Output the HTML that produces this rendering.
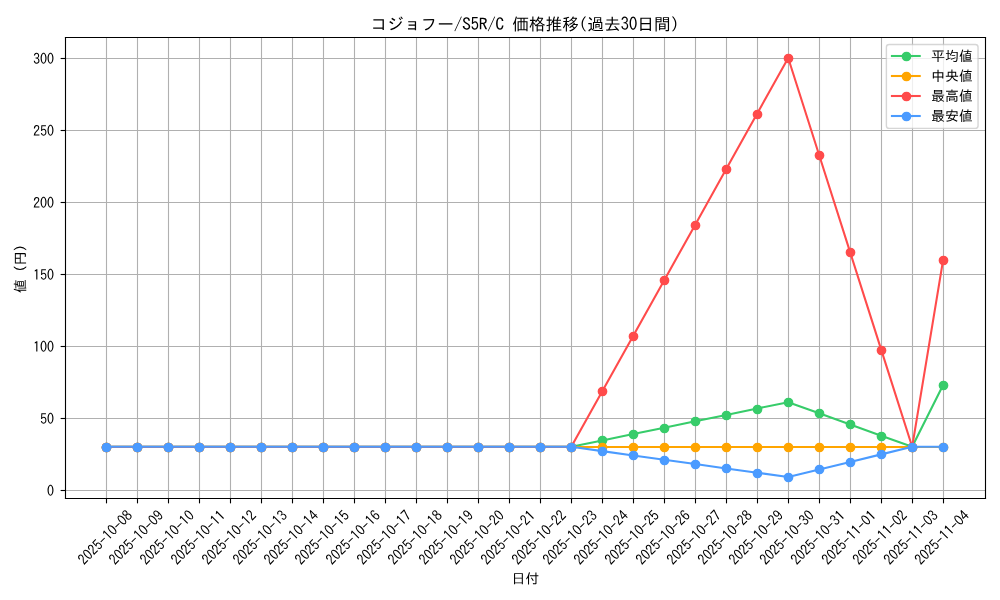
<!DOCTYPE html>
<html><head><meta charset="utf-8"><title>chart</title><style>html,body{margin:0;padding:0;background:#fff;overflow:hidden;font-family:"Liberation Sans",sans-serif}svg{display:block}</style></head><body>
<svg width="1000" height="600" viewBox="0 0 720 432">
<defs>
<style type="text/css">*{stroke-linejoin: round; stroke-linecap: butt}</style>
</defs>
<g id="figure_1">
<g id="patch_1">
<path d="M 0 432  L 720 432  L 720 0  L 0 0  z " style="fill: #ffffff" />
</g>
<g id="axes_1">
<g id="patch_2">
<path d="M 46.512 358.56  L 709.2 358.56  L 709.2 26.676  L 46.512 26.676  z " style="fill: #ffffff" />
</g>
<g id="matplotlib.axis_1">
<g id="xtick_1">
<g id="line2d_1">
<path d="M 76.68 358.92 L 76.68 27" clip-path="url(#p4cbaa17810)" style="fill: none; stroke: #b0b0b0; stroke-width: 0.8; stroke-linecap: square" />
</g>
<g id="line2d_2">
<defs>
<path id="m046e9c163f" d="M 0 0  L 0 3.5  " style="stroke: #000000; stroke-width: 0.8" />
</defs>
<g>
<use href="#m046e9c163f" x="76.68" y="358.92" style="stroke: #000000; stroke-width: 0.8" />
</g>
</g>
<g id="text_1" transform="translate(-0.54 1.152)">
<g transform="translate(61.283336 406.225269) rotate(-45) scale(0.1 -0.1)">
<defs>
<path id="IPAGothic-32" d="M 2900 325  L 250 325  Q 441 1553 1528 2453  Q 1963 2806 2116 3034  Q 2316 3319 2316 3706  Q 2316 4022 2175 4219  Q 1994 4494 1631 4494  Q 894 4494 825 3406  L 322 3406  Q 359 4056 628 4428  Q 981 4928 1644 4928  Q 2106 4928 2425 4659  Q 2828 4313 2828 3713  Q 2828 2875 1881 2156  Q 1072 1541 909 800  L 2900 800  L 2900 325  z " transform="translate(25 0) scale(1 1.06) translate(-25 0) scale(0.015625)" />
<path id="IPAGothic-30" d="M 1600 4935 C 2285.96 4935 2842 3874.4 2842 2566 C 2842 1257.6 2285.96 197 1600 197 C 914.043 197 358 1257.6 358 2566 C 358 3874.4 914.043 4935 1600 4935 Z M 1600 4526 C 1180.25 4526 840 3648.51 840 2566 C 840 1483.49 1180.25 606 1600 606 C 2019.75 606 2360 1483.49 2360 2566 C 2360 3648.51 2019.75 4526 1600 4526 Z" transform="translate(25 0) scale(1.1 1.06) translate(-25 0) scale(0.015625)" />
<path id="IPAGothic-35" d="M 566 4806  L 2691 4806  L 2691 4359  L 1013 4359  L 944 2888  Q 1259 3250 1738 3250  Q 2250 3250 2588 2816  Q 2909 2397 2909 1772  Q 2909 1238 2697 844  Q 2341 197 1591 197  Q 538 197 328 1375  L 841 1375  Q 947 644 1588 644  Q 2000 644 2228 997  Q 2422 1294 2422 1766  Q 2422 2184 2259 2456  Q 2059 2822 1653 2822  Q 1156 2822 859 2225  L 456 2309  L 566 4806  z " transform="translate(25 0) scale(1 1.06) translate(-25 0) scale(0.015625)" />
<path id="IPAGothic-2d" d="M 313 2663  L 2884 2663  L 2884 2203  L 313 2203  L 313 2663  z " transform="scale(0.015625)" />
<path id="IPAGothic-31" d="M 1428 325  L 1428 4153  Q 1188 3991 756 3809  L 756 4325  Q 1256 4509 1563 4806  L 1953 4806  L 1953 325  L 1428 325  z " transform="translate(25 0) scale(1 1.06) translate(-25 0) scale(0.015625)" />
<path id="IPAGothic-38" d="M 1050 2741  Q 403 3056 403 3750  Q 403 4084 563 4359  Q 900 4934 1600 4934  Q 1950 4934 2253 4750  Q 2797 4416 2797 3750  Q 2797 3056 2150 2741  Q 2978 2422 2978 1541  Q 2978 1038 2697 678  Q 2322 197 1600 197  Q 988 197 616 550  Q 225 922 225 1541  Q 225 2422 1050 2741  z M 1600 4525  Q 1278 4525 1075 4294  Q 891 4078 891 3756  Q 891 3544 969 3372  Q 1159 2956 1606 2956  Q 1863 2956 2041 3116  Q 2309 3347 2309 3756  Q 2309 4156 2041 4378  Q 1856 4525 1600 4525  z M 1594 2497  Q 1178 2497 931 2191  Q 725 1925 725 1541  Q 725 1172 925 925  Q 1172 619 1600 619  Q 2031 619 2281 925  Q 2478 1172 2478 1541  Q 2478 2022 2184 2278  Q 1947 2497 1594 2497  z " transform="translate(25 0) scale(1 1.06) translate(-25 0) scale(0.015625)" />
</defs>
<use href="#IPAGothic-32" />
<use href="#IPAGothic-30" transform="translate(50 0)" />
<use href="#IPAGothic-32" transform="translate(100 0)" />
<use href="#IPAGothic-35" transform="translate(150 0)" />
<use href="#IPAGothic-2d" transform="translate(200 0)" />
<use href="#IPAGothic-31" transform="translate(250 0)" />
<use href="#IPAGothic-30" transform="translate(300 0)" />
<use href="#IPAGothic-2d" transform="translate(350 0)" />
<use href="#IPAGothic-30" transform="translate(400 0)" />
<use href="#IPAGothic-38" transform="translate(450 0)" />
</g>
</g>
</g>
<g id="xtick_2">
<g id="line2d_3">
<path d="M 99 358.92 L 99 27" clip-path="url(#p4cbaa17810)" style="fill: none; stroke: #b0b0b0; stroke-width: 0.8; stroke-linecap: square" />
</g>
<g id="line2d_4">
<g>
<use href="#m046e9c163f" x="99" y="358.92" style="stroke: #000000; stroke-width: 0.8" />
</g>
</g>
<g id="text_2" transform="translate(-0.54 1.152)">
<g transform="translate(83.596063 406.225269) rotate(-45) scale(0.1 -0.1)">
<defs>
<path id="IPAGothic-39" d="M 909 1363  Q 988 666 1569 666  Q 2431 666 2422 2500  Q 2063 1972 1519 1972  Q 859 1972 531 2588  Q 347 2947 347 3419  Q 347 4019 672 4459  Q 1022 4934 1569 4934  Q 2888 4934 2888 2706  Q 2888 197 1575 197  Q 975 197 628 716  Q 450 984 384 1363  L 909 1363  z M 1591 4494  Q 834 4494 834 3431  Q 834 3038 969 2778  Q 1169 2394 1591 2394  Q 1859 2394 2069 2631  Q 2338 2938 2338 3431  Q 2338 3925 2125 4213  Q 1922 4494 1591 4494  z " transform="translate(25 0) scale(1 1.06) translate(-25 0) scale(0.015625)" />
</defs>
<use href="#IPAGothic-32" />
<use href="#IPAGothic-30" transform="translate(50 0)" />
<use href="#IPAGothic-32" transform="translate(100 0)" />
<use href="#IPAGothic-35" transform="translate(150 0)" />
<use href="#IPAGothic-2d" transform="translate(200 0)" />
<use href="#IPAGothic-31" transform="translate(250 0)" />
<use href="#IPAGothic-30" transform="translate(300 0)" />
<use href="#IPAGothic-2d" transform="translate(350 0)" />
<use href="#IPAGothic-30" transform="translate(400 0)" />
<use href="#IPAGothic-39" transform="translate(450 0)" />
</g>
</g>
</g>
<g id="xtick_3">
<g id="line2d_5">
<path d="M 121.32 358.92 L 121.32 27" clip-path="url(#p4cbaa17810)" style="fill: none; stroke: #b0b0b0; stroke-width: 0.8; stroke-linecap: square" />
</g>
<g id="line2d_6">
<g>
<use href="#m046e9c163f" x="121.32" y="358.92" style="stroke: #000000; stroke-width: 0.8" />
</g>
</g>
<g id="text_3" transform="translate(-0.54 1.152)">
<g transform="translate(105.90879 406.225269) rotate(-45) scale(0.1 -0.1)">
<use href="#IPAGothic-32" />
<use href="#IPAGothic-30" transform="translate(50 0)" />
<use href="#IPAGothic-32" transform="translate(100 0)" />
<use href="#IPAGothic-35" transform="translate(150 0)" />
<use href="#IPAGothic-2d" transform="translate(200 0)" />
<use href="#IPAGothic-31" transform="translate(250 0)" />
<use href="#IPAGothic-30" transform="translate(300 0)" />
<use href="#IPAGothic-2d" transform="translate(350 0)" />
<use href="#IPAGothic-31" transform="translate(400 0)" />
<use href="#IPAGothic-30" transform="translate(450 0)" />
</g>
</g>
</g>
<g id="xtick_4">
<g id="line2d_7">
<path d="M 143.64 358.92 L 143.64 27" clip-path="url(#p4cbaa17810)" style="fill: none; stroke: #b0b0b0; stroke-width: 0.8; stroke-linecap: square" />
</g>
<g id="line2d_8">
<g>
<use href="#m046e9c163f" x="143.64" y="358.92" style="stroke: #000000; stroke-width: 0.8" />
</g>
</g>
<g id="text_4" transform="translate(-0.54 1.152)">
<g transform="translate(128.221517 406.225269) rotate(-45) scale(0.1 -0.1)">
<use href="#IPAGothic-32" />
<use href="#IPAGothic-30" transform="translate(50 0)" />
<use href="#IPAGothic-32" transform="translate(100 0)" />
<use href="#IPAGothic-35" transform="translate(150 0)" />
<use href="#IPAGothic-2d" transform="translate(200 0)" />
<use href="#IPAGothic-31" transform="translate(250 0)" />
<use href="#IPAGothic-30" transform="translate(300 0)" />
<use href="#IPAGothic-2d" transform="translate(350 0)" />
<use href="#IPAGothic-31" transform="translate(400 0)" />
<use href="#IPAGothic-31" transform="translate(450 0)" />
</g>
</g>
</g>
<g id="xtick_5">
<g id="line2d_9">
<path d="M 165.96 358.92 L 165.96 27" clip-path="url(#p4cbaa17810)" style="fill: none; stroke: #b0b0b0; stroke-width: 0.8; stroke-linecap: square" />
</g>
<g id="line2d_10">
<g>
<use href="#m046e9c163f" x="165.96" y="358.92" style="stroke: #000000; stroke-width: 0.8" />
</g>
</g>
<g id="text_5" transform="translate(-0.54 1.152)">
<g transform="translate(150.534245 406.225269) rotate(-45) scale(0.1 -0.1)">
<use href="#IPAGothic-32" />
<use href="#IPAGothic-30" transform="translate(50 0)" />
<use href="#IPAGothic-32" transform="translate(100 0)" />
<use href="#IPAGothic-35" transform="translate(150 0)" />
<use href="#IPAGothic-2d" transform="translate(200 0)" />
<use href="#IPAGothic-31" transform="translate(250 0)" />
<use href="#IPAGothic-30" transform="translate(300 0)" />
<use href="#IPAGothic-2d" transform="translate(350 0)" />
<use href="#IPAGothic-31" transform="translate(400 0)" />
<use href="#IPAGothic-32" transform="translate(450 0)" />
</g>
</g>
</g>
<g id="xtick_6">
<g id="line2d_11">
<path d="M 188.28 358.92 L 188.28 27" clip-path="url(#p4cbaa17810)" style="fill: none; stroke: #b0b0b0; stroke-width: 0.8; stroke-linecap: square" />
</g>
<g id="line2d_12">
<g>
<use href="#m046e9c163f" x="188.28" y="358.92" style="stroke: #000000; stroke-width: 0.8" />
</g>
</g>
<g id="text_6" transform="translate(-0.54 1.152)">
<g transform="translate(172.846972 406.225269) rotate(-45) scale(0.1 -0.1)">
<defs>
<path id="IPAGothic-33" d="M 1113 2931  L 1431 2931  Q 1841 2931 1994 3047  Q 2281 3269 2281 3713  Q 2281 4500 1566 4500  Q 972 4500 838 3828  L 331 3828  Q 400 4250 625 4525  Q 969 4934 1566 4934  Q 2066 4934 2391 4647  Q 2775 4309 2775 3731  Q 2775 2953 2078 2713  Q 2919 2388 2919 1528  Q 2919 978 2606 625  Q 2231 197 1575 197  Q 959 197 594 619  Q 325 928 269 1472  L 794 1472  Q 859 638 1575 638  Q 1906 638 2131 825  Q 2413 1066 2413 1528  Q 2413 2522 1431 2522  L 1113 2522  L 1113 2931  z " transform="translate(25 0) scale(1 1.06) translate(-25 0) scale(0.015625)" />
</defs>
<use href="#IPAGothic-32" />
<use href="#IPAGothic-30" transform="translate(50 0)" />
<use href="#IPAGothic-32" transform="translate(100 0)" />
<use href="#IPAGothic-35" transform="translate(150 0)" />
<use href="#IPAGothic-2d" transform="translate(200 0)" />
<use href="#IPAGothic-31" transform="translate(250 0)" />
<use href="#IPAGothic-30" transform="translate(300 0)" />
<use href="#IPAGothic-2d" transform="translate(350 0)" />
<use href="#IPAGothic-31" transform="translate(400 0)" />
<use href="#IPAGothic-33" transform="translate(450 0)" />
</g>
</g>
</g>
<g id="xtick_7">
<g id="line2d_13">
<path d="M 210.6 358.92 L 210.6 27" clip-path="url(#p4cbaa17810)" style="fill: none; stroke: #b0b0b0; stroke-width: 0.8; stroke-linecap: square" />
</g>
<g id="line2d_14">
<g>
<use href="#m046e9c163f" x="210.6" y="358.92" style="stroke: #000000; stroke-width: 0.8" />
</g>
</g>
<g id="text_7" transform="translate(-0.54 1.152)">
<g transform="translate(195.159699 406.225269) rotate(-45) scale(0.1 -0.1)">
<defs>
<path id="IPAGothic-34" d="M 1966 4806  L 2509 4806  L 2509 1869  L 3041 1869  L 3041 1434  L 2509 1434  L 2509 325  L 2034 325  L 2034 1434  L 159 1434  L 159 1881  L 1966 4806  z M 2034 4109  L 641 1869  L 2034 1869  L 2034 4109  z " transform="translate(25 0) scale(1 1.06) translate(-25 0) scale(0.015625)" />
</defs>
<use href="#IPAGothic-32" />
<use href="#IPAGothic-30" transform="translate(50 0)" />
<use href="#IPAGothic-32" transform="translate(100 0)" />
<use href="#IPAGothic-35" transform="translate(150 0)" />
<use href="#IPAGothic-2d" transform="translate(200 0)" />
<use href="#IPAGothic-31" transform="translate(250 0)" />
<use href="#IPAGothic-30" transform="translate(300 0)" />
<use href="#IPAGothic-2d" transform="translate(350 0)" />
<use href="#IPAGothic-31" transform="translate(400 0)" />
<use href="#IPAGothic-34" transform="translate(450 0)" />
</g>
</g>
</g>
<g id="xtick_8">
<g id="line2d_15">
<path d="M 232.92 358.92 L 232.92 27" clip-path="url(#p4cbaa17810)" style="fill: none; stroke: #b0b0b0; stroke-width: 0.8; stroke-linecap: square" />
</g>
<g id="line2d_16">
<g>
<use href="#m046e9c163f" x="232.92" y="358.92" style="stroke: #000000; stroke-width: 0.8" />
</g>
</g>
<g id="text_8" transform="translate(-0.54 1.152)">
<g transform="translate(217.472426 406.225269) rotate(-45) scale(0.1 -0.1)">
<use href="#IPAGothic-32" />
<use href="#IPAGothic-30" transform="translate(50 0)" />
<use href="#IPAGothic-32" transform="translate(100 0)" />
<use href="#IPAGothic-35" transform="translate(150 0)" />
<use href="#IPAGothic-2d" transform="translate(200 0)" />
<use href="#IPAGothic-31" transform="translate(250 0)" />
<use href="#IPAGothic-30" transform="translate(300 0)" />
<use href="#IPAGothic-2d" transform="translate(350 0)" />
<use href="#IPAGothic-31" transform="translate(400 0)" />
<use href="#IPAGothic-35" transform="translate(450 0)" />
</g>
</g>
</g>
<g id="xtick_9">
<g id="line2d_17">
<path d="M 255.24 358.92 L 255.24 27" clip-path="url(#p4cbaa17810)" style="fill: none; stroke: #b0b0b0; stroke-width: 0.8; stroke-linecap: square" />
</g>
<g id="line2d_18">
<g>
<use href="#m046e9c163f" x="255.24" y="358.92" style="stroke: #000000; stroke-width: 0.8" />
</g>
</g>
<g id="text_9" transform="translate(-0.54 1.152)">
<g transform="translate(239.785154 406.225269) rotate(-45) scale(0.1 -0.1)">
<defs>
<path id="IPAGothic-36" d="M 2322 3809  Q 2225 4488 1713 4488  Q 1269 4488 1028 3950  Q 803 3447 794 2588  Q 1159 3119 1725 3119  Q 2194 3119 2519 2772  Q 2903 2369 2903 1709  Q 2903 1159 2641 750  Q 2284 200 1638 200  Q 1050 200 697 738  Q 319 1328 319 2375  Q 319 3488 650 4172  Q 1028 4934 1706 4934  Q 2634 4934 2847 3809  L 2322 3809  z M 1644 2703  Q 1272 2703 1047 2363  Q 875 2094 875 1691  Q 875 1328 997 1075  Q 1209 641 1650 641  Q 2003 641 2219 959  Q 2409 1241 2409 1697  Q 2409 2113 2244 2375  Q 2041 2703 1644 2703  z " transform="translate(25 0) scale(1 1.06) translate(-25 0) scale(0.015625)" />
</defs>
<use href="#IPAGothic-32" />
<use href="#IPAGothic-30" transform="translate(50 0)" />
<use href="#IPAGothic-32" transform="translate(100 0)" />
<use href="#IPAGothic-35" transform="translate(150 0)" />
<use href="#IPAGothic-2d" transform="translate(200 0)" />
<use href="#IPAGothic-31" transform="translate(250 0)" />
<use href="#IPAGothic-30" transform="translate(300 0)" />
<use href="#IPAGothic-2d" transform="translate(350 0)" />
<use href="#IPAGothic-31" transform="translate(400 0)" />
<use href="#IPAGothic-36" transform="translate(450 0)" />
</g>
</g>
</g>
<g id="xtick_10">
<g id="line2d_19">
<path d="M 277.56 358.92 L 277.56 27" clip-path="url(#p4cbaa17810)" style="fill: none; stroke: #b0b0b0; stroke-width: 0.8; stroke-linecap: square" />
</g>
<g id="line2d_20">
<g>
<use href="#m046e9c163f" x="277.56" y="358.92" style="stroke: #000000; stroke-width: 0.8" />
</g>
</g>
<g id="text_10" transform="translate(-0.54 1.152)">
<g transform="translate(262.097881 406.225269) rotate(-45) scale(0.1 -0.1)">
<defs>
<path id="IPAGothic-37" d="M 319 4806  L 2878 4806  L 2878 4441  Q 1978 2213 1528 325  L 947 325  Q 1434 2050 2328 4319  L 319 4319  L 319 4806  z " transform="translate(25 0) scale(1 1.06) translate(-25 0) scale(0.015625)" />
</defs>
<use href="#IPAGothic-32" />
<use href="#IPAGothic-30" transform="translate(50 0)" />
<use href="#IPAGothic-32" transform="translate(100 0)" />
<use href="#IPAGothic-35" transform="translate(150 0)" />
<use href="#IPAGothic-2d" transform="translate(200 0)" />
<use href="#IPAGothic-31" transform="translate(250 0)" />
<use href="#IPAGothic-30" transform="translate(300 0)" />
<use href="#IPAGothic-2d" transform="translate(350 0)" />
<use href="#IPAGothic-31" transform="translate(400 0)" />
<use href="#IPAGothic-37" transform="translate(450 0)" />
</g>
</g>
</g>
<g id="xtick_11">
<g id="line2d_21">
<path d="M 299.88 358.92 L 299.88 27" clip-path="url(#p4cbaa17810)" style="fill: none; stroke: #b0b0b0; stroke-width: 0.8; stroke-linecap: square" />
</g>
<g id="line2d_22">
<g>
<use href="#m046e9c163f" x="299.88" y="358.92" style="stroke: #000000; stroke-width: 0.8" />
</g>
</g>
<g id="text_11" transform="translate(-0.54 1.152)">
<g transform="translate(284.410608 406.225269) rotate(-45) scale(0.1 -0.1)">
<use href="#IPAGothic-32" />
<use href="#IPAGothic-30" transform="translate(50 0)" />
<use href="#IPAGothic-32" transform="translate(100 0)" />
<use href="#IPAGothic-35" transform="translate(150 0)" />
<use href="#IPAGothic-2d" transform="translate(200 0)" />
<use href="#IPAGothic-31" transform="translate(250 0)" />
<use href="#IPAGothic-30" transform="translate(300 0)" />
<use href="#IPAGothic-2d" transform="translate(350 0)" />
<use href="#IPAGothic-31" transform="translate(400 0)" />
<use href="#IPAGothic-38" transform="translate(450 0)" />
</g>
</g>
</g>
<g id="xtick_12">
<g id="line2d_23">
<path d="M 322.2 358.92 L 322.2 27" clip-path="url(#p4cbaa17810)" style="fill: none; stroke: #b0b0b0; stroke-width: 0.8; stroke-linecap: square" />
</g>
<g id="line2d_24">
<g>
<use href="#m046e9c163f" x="322.2" y="358.92" style="stroke: #000000; stroke-width: 0.8" />
</g>
</g>
<g id="text_12" transform="translate(-0.54 1.152)">
<g transform="translate(306.723336 406.225269) rotate(-45) scale(0.1 -0.1)">
<use href="#IPAGothic-32" />
<use href="#IPAGothic-30" transform="translate(50 0)" />
<use href="#IPAGothic-32" transform="translate(100 0)" />
<use href="#IPAGothic-35" transform="translate(150 0)" />
<use href="#IPAGothic-2d" transform="translate(200 0)" />
<use href="#IPAGothic-31" transform="translate(250 0)" />
<use href="#IPAGothic-30" transform="translate(300 0)" />
<use href="#IPAGothic-2d" transform="translate(350 0)" />
<use href="#IPAGothic-31" transform="translate(400 0)" />
<use href="#IPAGothic-39" transform="translate(450 0)" />
</g>
</g>
</g>
<g id="xtick_13">
<g id="line2d_25">
<path d="M 344.52 358.92 L 344.52 27" clip-path="url(#p4cbaa17810)" style="fill: none; stroke: #b0b0b0; stroke-width: 0.8; stroke-linecap: square" />
</g>
<g id="line2d_26">
<g>
<use href="#m046e9c163f" x="344.52" y="358.92" style="stroke: #000000; stroke-width: 0.8" />
</g>
</g>
<g id="text_13" transform="translate(-0.54 1.152)">
<g transform="translate(329.036063 406.225269) rotate(-45) scale(0.1 -0.1)">
<use href="#IPAGothic-32" />
<use href="#IPAGothic-30" transform="translate(50 0)" />
<use href="#IPAGothic-32" transform="translate(100 0)" />
<use href="#IPAGothic-35" transform="translate(150 0)" />
<use href="#IPAGothic-2d" transform="translate(200 0)" />
<use href="#IPAGothic-31" transform="translate(250 0)" />
<use href="#IPAGothic-30" transform="translate(300 0)" />
<use href="#IPAGothic-2d" transform="translate(350 0)" />
<use href="#IPAGothic-32" transform="translate(400 0)" />
<use href="#IPAGothic-30" transform="translate(450 0)" />
</g>
</g>
</g>
<g id="xtick_14">
<g id="line2d_27">
<path d="M 366.84 358.92 L 366.84 27" clip-path="url(#p4cbaa17810)" style="fill: none; stroke: #b0b0b0; stroke-width: 0.8; stroke-linecap: square" />
</g>
<g id="line2d_28">
<g>
<use href="#m046e9c163f" x="366.84" y="358.92" style="stroke: #000000; stroke-width: 0.8" />
</g>
</g>
<g id="text_14" transform="translate(-0.54 1.152)">
<g transform="translate(351.34879 406.225269) rotate(-45) scale(0.1 -0.1)">
<use href="#IPAGothic-32" />
<use href="#IPAGothic-30" transform="translate(50 0)" />
<use href="#IPAGothic-32" transform="translate(100 0)" />
<use href="#IPAGothic-35" transform="translate(150 0)" />
<use href="#IPAGothic-2d" transform="translate(200 0)" />
<use href="#IPAGothic-31" transform="translate(250 0)" />
<use href="#IPAGothic-30" transform="translate(300 0)" />
<use href="#IPAGothic-2d" transform="translate(350 0)" />
<use href="#IPAGothic-32" transform="translate(400 0)" />
<use href="#IPAGothic-31" transform="translate(450 0)" />
</g>
</g>
</g>
<g id="xtick_15">
<g id="line2d_29">
<path d="M 389.16 358.92 L 389.16 27" clip-path="url(#p4cbaa17810)" style="fill: none; stroke: #b0b0b0; stroke-width: 0.8; stroke-linecap: square" />
</g>
<g id="line2d_30">
<g>
<use href="#m046e9c163f" x="389.16" y="358.92" style="stroke: #000000; stroke-width: 0.8" />
</g>
</g>
<g id="text_15" transform="translate(-0.54 1.152)">
<g transform="translate(373.661517 406.225269) rotate(-45) scale(0.1 -0.1)">
<use href="#IPAGothic-32" />
<use href="#IPAGothic-30" transform="translate(50 0)" />
<use href="#IPAGothic-32" transform="translate(100 0)" />
<use href="#IPAGothic-35" transform="translate(150 0)" />
<use href="#IPAGothic-2d" transform="translate(200 0)" />
<use href="#IPAGothic-31" transform="translate(250 0)" />
<use href="#IPAGothic-30" transform="translate(300 0)" />
<use href="#IPAGothic-2d" transform="translate(350 0)" />
<use href="#IPAGothic-32" transform="translate(400 0)" />
<use href="#IPAGothic-32" transform="translate(450 0)" />
</g>
</g>
</g>
<g id="xtick_16">
<g id="line2d_31">
<path d="M 411.48 358.92 L 411.48 27" clip-path="url(#p4cbaa17810)" style="fill: none; stroke: #b0b0b0; stroke-width: 0.8; stroke-linecap: square" />
</g>
<g id="line2d_32">
<g>
<use href="#m046e9c163f" x="411.48" y="358.92" style="stroke: #000000; stroke-width: 0.8" />
</g>
</g>
<g id="text_16" transform="translate(-0.54 1.152)">
<g transform="translate(395.974245 406.225269) rotate(-45) scale(0.1 -0.1)">
<use href="#IPAGothic-32" />
<use href="#IPAGothic-30" transform="translate(50 0)" />
<use href="#IPAGothic-32" transform="translate(100 0)" />
<use href="#IPAGothic-35" transform="translate(150 0)" />
<use href="#IPAGothic-2d" transform="translate(200 0)" />
<use href="#IPAGothic-31" transform="translate(250 0)" />
<use href="#IPAGothic-30" transform="translate(300 0)" />
<use href="#IPAGothic-2d" transform="translate(350 0)" />
<use href="#IPAGothic-32" transform="translate(400 0)" />
<use href="#IPAGothic-33" transform="translate(450 0)" />
</g>
</g>
</g>
<g id="xtick_17">
<g id="line2d_33">
<path d="M 433.8 358.92 L 433.8 27" clip-path="url(#p4cbaa17810)" style="fill: none; stroke: #b0b0b0; stroke-width: 0.8; stroke-linecap: square" />
</g>
<g id="line2d_34">
<g>
<use href="#m046e9c163f" x="433.8" y="358.92" style="stroke: #000000; stroke-width: 0.8" />
</g>
</g>
<g id="text_17" transform="translate(-0.54 1.152)">
<g transform="translate(418.286972 406.225269) rotate(-45) scale(0.1 -0.1)">
<use href="#IPAGothic-32" />
<use href="#IPAGothic-30" transform="translate(50 0)" />
<use href="#IPAGothic-32" transform="translate(100 0)" />
<use href="#IPAGothic-35" transform="translate(150 0)" />
<use href="#IPAGothic-2d" transform="translate(200 0)" />
<use href="#IPAGothic-31" transform="translate(250 0)" />
<use href="#IPAGothic-30" transform="translate(300 0)" />
<use href="#IPAGothic-2d" transform="translate(350 0)" />
<use href="#IPAGothic-32" transform="translate(400 0)" />
<use href="#IPAGothic-34" transform="translate(450 0)" />
</g>
</g>
</g>
<g id="xtick_18">
<g id="line2d_35">
<path d="M 456.12 358.92 L 456.12 27" clip-path="url(#p4cbaa17810)" style="fill: none; stroke: #b0b0b0; stroke-width: 0.8; stroke-linecap: square" />
</g>
<g id="line2d_36">
<g>
<use href="#m046e9c163f" x="456.12" y="358.92" style="stroke: #000000; stroke-width: 0.8" />
</g>
</g>
<g id="text_18" transform="translate(-0.54 1.152)">
<g transform="translate(440.599699 406.225269) rotate(-45) scale(0.1 -0.1)">
<use href="#IPAGothic-32" />
<use href="#IPAGothic-30" transform="translate(50 0)" />
<use href="#IPAGothic-32" transform="translate(100 0)" />
<use href="#IPAGothic-35" transform="translate(150 0)" />
<use href="#IPAGothic-2d" transform="translate(200 0)" />
<use href="#IPAGothic-31" transform="translate(250 0)" />
<use href="#IPAGothic-30" transform="translate(300 0)" />
<use href="#IPAGothic-2d" transform="translate(350 0)" />
<use href="#IPAGothic-32" transform="translate(400 0)" />
<use href="#IPAGothic-35" transform="translate(450 0)" />
</g>
</g>
</g>
<g id="xtick_19">
<g id="line2d_37">
<path d="M 478.44 358.92 L 478.44 27" clip-path="url(#p4cbaa17810)" style="fill: none; stroke: #b0b0b0; stroke-width: 0.8; stroke-linecap: square" />
</g>
<g id="line2d_38">
<g>
<use href="#m046e9c163f" x="478.44" y="358.92" style="stroke: #000000; stroke-width: 0.8" />
</g>
</g>
<g id="text_19" transform="translate(-0.54 1.152)">
<g transform="translate(462.912426 406.225269) rotate(-45) scale(0.1 -0.1)">
<use href="#IPAGothic-32" />
<use href="#IPAGothic-30" transform="translate(50 0)" />
<use href="#IPAGothic-32" transform="translate(100 0)" />
<use href="#IPAGothic-35" transform="translate(150 0)" />
<use href="#IPAGothic-2d" transform="translate(200 0)" />
<use href="#IPAGothic-31" transform="translate(250 0)" />
<use href="#IPAGothic-30" transform="translate(300 0)" />
<use href="#IPAGothic-2d" transform="translate(350 0)" />
<use href="#IPAGothic-32" transform="translate(400 0)" />
<use href="#IPAGothic-36" transform="translate(450 0)" />
</g>
</g>
</g>
<g id="xtick_20">
<g id="line2d_39">
<path d="M 500.76 358.92 L 500.76 27" clip-path="url(#p4cbaa17810)" style="fill: none; stroke: #b0b0b0; stroke-width: 0.8; stroke-linecap: square" />
</g>
<g id="line2d_40">
<g>
<use href="#m046e9c163f" x="500.76" y="358.92" style="stroke: #000000; stroke-width: 0.8" />
</g>
</g>
<g id="text_20" transform="translate(-0.54 1.152)">
<g transform="translate(485.225154 406.225269) rotate(-45) scale(0.1 -0.1)">
<use href="#IPAGothic-32" />
<use href="#IPAGothic-30" transform="translate(50 0)" />
<use href="#IPAGothic-32" transform="translate(100 0)" />
<use href="#IPAGothic-35" transform="translate(150 0)" />
<use href="#IPAGothic-2d" transform="translate(200 0)" />
<use href="#IPAGothic-31" transform="translate(250 0)" />
<use href="#IPAGothic-30" transform="translate(300 0)" />
<use href="#IPAGothic-2d" transform="translate(350 0)" />
<use href="#IPAGothic-32" transform="translate(400 0)" />
<use href="#IPAGothic-37" transform="translate(450 0)" />
</g>
</g>
</g>
<g id="xtick_21">
<g id="line2d_41">
<path d="M 523.08 358.92 L 523.08 27" clip-path="url(#p4cbaa17810)" style="fill: none; stroke: #b0b0b0; stroke-width: 0.8; stroke-linecap: square" />
</g>
<g id="line2d_42">
<g>
<use href="#m046e9c163f" x="523.08" y="358.92" style="stroke: #000000; stroke-width: 0.8" />
</g>
</g>
<g id="text_21" transform="translate(-0.54 1.152)">
<g transform="translate(507.537881 406.225269) rotate(-45) scale(0.1 -0.1)">
<use href="#IPAGothic-32" />
<use href="#IPAGothic-30" transform="translate(50 0)" />
<use href="#IPAGothic-32" transform="translate(100 0)" />
<use href="#IPAGothic-35" transform="translate(150 0)" />
<use href="#IPAGothic-2d" transform="translate(200 0)" />
<use href="#IPAGothic-31" transform="translate(250 0)" />
<use href="#IPAGothic-30" transform="translate(300 0)" />
<use href="#IPAGothic-2d" transform="translate(350 0)" />
<use href="#IPAGothic-32" transform="translate(400 0)" />
<use href="#IPAGothic-38" transform="translate(450 0)" />
</g>
</g>
</g>
<g id="xtick_22">
<g id="line2d_43">
<path d="M 545.4 358.92 L 545.4 27" clip-path="url(#p4cbaa17810)" style="fill: none; stroke: #b0b0b0; stroke-width: 0.8; stroke-linecap: square" />
</g>
<g id="line2d_44">
<g>
<use href="#m046e9c163f" x="545.4" y="358.92" style="stroke: #000000; stroke-width: 0.8" />
</g>
</g>
<g id="text_22" transform="translate(-0.54 1.152)">
<g transform="translate(529.850608 406.225269) rotate(-45) scale(0.1 -0.1)">
<use href="#IPAGothic-32" />
<use href="#IPAGothic-30" transform="translate(50 0)" />
<use href="#IPAGothic-32" transform="translate(100 0)" />
<use href="#IPAGothic-35" transform="translate(150 0)" />
<use href="#IPAGothic-2d" transform="translate(200 0)" />
<use href="#IPAGothic-31" transform="translate(250 0)" />
<use href="#IPAGothic-30" transform="translate(300 0)" />
<use href="#IPAGothic-2d" transform="translate(350 0)" />
<use href="#IPAGothic-32" transform="translate(400 0)" />
<use href="#IPAGothic-39" transform="translate(450 0)" />
</g>
</g>
</g>
<g id="xtick_23">
<g id="line2d_45">
<path d="M 567.72 358.92 L 567.72 27" clip-path="url(#p4cbaa17810)" style="fill: none; stroke: #b0b0b0; stroke-width: 0.8; stroke-linecap: square" />
</g>
<g id="line2d_46">
<g>
<use href="#m046e9c163f" x="567.72" y="358.92" style="stroke: #000000; stroke-width: 0.8" />
</g>
</g>
<g id="text_23" transform="translate(-0.54 1.152)">
<g transform="translate(552.163336 406.225269) rotate(-45) scale(0.1 -0.1)">
<use href="#IPAGothic-32" />
<use href="#IPAGothic-30" transform="translate(50 0)" />
<use href="#IPAGothic-32" transform="translate(100 0)" />
<use href="#IPAGothic-35" transform="translate(150 0)" />
<use href="#IPAGothic-2d" transform="translate(200 0)" />
<use href="#IPAGothic-31" transform="translate(250 0)" />
<use href="#IPAGothic-30" transform="translate(300 0)" />
<use href="#IPAGothic-2d" transform="translate(350 0)" />
<use href="#IPAGothic-33" transform="translate(400 0)" />
<use href="#IPAGothic-30" transform="translate(450 0)" />
</g>
</g>
</g>
<g id="xtick_24">
<g id="line2d_47">
<path d="M 590.04 358.92 L 590.04 27" clip-path="url(#p4cbaa17810)" style="fill: none; stroke: #b0b0b0; stroke-width: 0.8; stroke-linecap: square" />
</g>
<g id="line2d_48">
<g>
<use href="#m046e9c163f" x="590.04" y="358.92" style="stroke: #000000; stroke-width: 0.8" />
</g>
</g>
<g id="text_24" transform="translate(-0.54 1.152)">
<g transform="translate(574.476063 406.225269) rotate(-45) scale(0.1 -0.1)">
<use href="#IPAGothic-32" />
<use href="#IPAGothic-30" transform="translate(50 0)" />
<use href="#IPAGothic-32" transform="translate(100 0)" />
<use href="#IPAGothic-35" transform="translate(150 0)" />
<use href="#IPAGothic-2d" transform="translate(200 0)" />
<use href="#IPAGothic-31" transform="translate(250 0)" />
<use href="#IPAGothic-30" transform="translate(300 0)" />
<use href="#IPAGothic-2d" transform="translate(350 0)" />
<use href="#IPAGothic-33" transform="translate(400 0)" />
<use href="#IPAGothic-31" transform="translate(450 0)" />
</g>
</g>
</g>
<g id="xtick_25">
<g id="line2d_49">
<path d="M 612.36 358.92 L 612.36 27" clip-path="url(#p4cbaa17810)" style="fill: none; stroke: #b0b0b0; stroke-width: 0.8; stroke-linecap: square" />
</g>
<g id="line2d_50">
<g>
<use href="#m046e9c163f" x="612.36" y="358.92" style="stroke: #000000; stroke-width: 0.8" />
</g>
</g>
<g id="text_25" transform="translate(-0.54 1.152)">
<g transform="translate(596.78879 406.225269) rotate(-45) scale(0.1 -0.1)">
<use href="#IPAGothic-32" />
<use href="#IPAGothic-30" transform="translate(50 0)" />
<use href="#IPAGothic-32" transform="translate(100 0)" />
<use href="#IPAGothic-35" transform="translate(150 0)" />
<use href="#IPAGothic-2d" transform="translate(200 0)" />
<use href="#IPAGothic-31" transform="translate(250 0)" />
<use href="#IPAGothic-31" transform="translate(300 0)" />
<use href="#IPAGothic-2d" transform="translate(350 0)" />
<use href="#IPAGothic-30" transform="translate(400 0)" />
<use href="#IPAGothic-31" transform="translate(450 0)" />
</g>
</g>
</g>
<g id="xtick_26">
<g id="line2d_51">
<path d="M 634.68 358.92 L 634.68 27" clip-path="url(#p4cbaa17810)" style="fill: none; stroke: #b0b0b0; stroke-width: 0.8; stroke-linecap: square" />
</g>
<g id="line2d_52">
<g>
<use href="#m046e9c163f" x="634.68" y="358.92" style="stroke: #000000; stroke-width: 0.8" />
</g>
</g>
<g id="text_26" transform="translate(-0.54 1.152)">
<g transform="translate(619.101517 406.225269) rotate(-45) scale(0.1 -0.1)">
<use href="#IPAGothic-32" />
<use href="#IPAGothic-30" transform="translate(50 0)" />
<use href="#IPAGothic-32" transform="translate(100 0)" />
<use href="#IPAGothic-35" transform="translate(150 0)" />
<use href="#IPAGothic-2d" transform="translate(200 0)" />
<use href="#IPAGothic-31" transform="translate(250 0)" />
<use href="#IPAGothic-31" transform="translate(300 0)" />
<use href="#IPAGothic-2d" transform="translate(350 0)" />
<use href="#IPAGothic-30" transform="translate(400 0)" />
<use href="#IPAGothic-32" transform="translate(450 0)" />
</g>
</g>
</g>
<g id="xtick_27">
<g id="line2d_53">
<path d="M 657 358.92 L 657 27" clip-path="url(#p4cbaa17810)" style="fill: none; stroke: #b0b0b0; stroke-width: 0.8; stroke-linecap: square" />
</g>
<g id="line2d_54">
<g>
<use href="#m046e9c163f" x="657" y="358.92" style="stroke: #000000; stroke-width: 0.8" />
</g>
</g>
<g id="text_27" transform="translate(-0.54 1.152)">
<g transform="translate(641.414245 406.225269) rotate(-45) scale(0.1 -0.1)">
<use href="#IPAGothic-32" />
<use href="#IPAGothic-30" transform="translate(50 0)" />
<use href="#IPAGothic-32" transform="translate(100 0)" />
<use href="#IPAGothic-35" transform="translate(150 0)" />
<use href="#IPAGothic-2d" transform="translate(200 0)" />
<use href="#IPAGothic-31" transform="translate(250 0)" />
<use href="#IPAGothic-31" transform="translate(300 0)" />
<use href="#IPAGothic-2d" transform="translate(350 0)" />
<use href="#IPAGothic-30" transform="translate(400 0)" />
<use href="#IPAGothic-33" transform="translate(450 0)" />
</g>
</g>
</g>
<g id="xtick_28">
<g id="line2d_55">
<path d="M 679.32 358.92 L 679.32 27" clip-path="url(#p4cbaa17810)" style="fill: none; stroke: #b0b0b0; stroke-width: 0.8; stroke-linecap: square" />
</g>
<g id="line2d_56">
<g>
<use href="#m046e9c163f" x="679.32" y="358.92" style="stroke: #000000; stroke-width: 0.8" />
</g>
</g>
<g id="text_28" transform="translate(-0.54 1.152)">
<g transform="translate(663.726972 406.225269) rotate(-45) scale(0.1 -0.1)">
<use href="#IPAGothic-32" />
<use href="#IPAGothic-30" transform="translate(50 0)" />
<use href="#IPAGothic-32" transform="translate(100 0)" />
<use href="#IPAGothic-35" transform="translate(150 0)" />
<use href="#IPAGothic-2d" transform="translate(200 0)" />
<use href="#IPAGothic-31" transform="translate(250 0)" />
<use href="#IPAGothic-31" transform="translate(300 0)" />
<use href="#IPAGothic-2d" transform="translate(350 0)" />
<use href="#IPAGothic-30" transform="translate(400 0)" />
<use href="#IPAGothic-34" transform="translate(450 0)" />
</g>
</g>
</g>
<g id="text_29" transform="translate(0.432 1.44)">
<g transform="translate(367.856 418.751865) scale(0.1 -0.1)">
<defs>
<path id="IPAGothic-65e5" d="M 5231 4800  L 5231 -288  L 4744 -288  L 4744 128  L 1647 128  L 1647 -288  L 1159 -288  L 1159 4800  L 5231 4800  z M 1647 4372  L 1647 2731  L 4744 2731  L 4744 4372  L 1647 4372  z M 1647 2297  L 1647 556  L 4744 556  L 4744 2297  L 1647 2297  z " transform="scale(0.015625)" />
<path id="IPAGothic-4ed8" d="M 1681 3772  L 1681 -447  L 1213 -447  L 1213 2825  Q 913 2316 578 1863  L 316 2253  Q 1241 3463 1653 5184  L 2128 5069  Q 1928 4378 1719 3859  L 1681 3772  z M 5084 3816  L 5994 3816  L 5994 3388  L 5109 3388  L 5109 213  Q 5109 -78 5006 -191  Q 4888 -319 4525 -319  Q 4031 -319 3516 -266  L 3431 238  Q 3978 141 4403 141  Q 4634 141 4634 384  L 4634 3388  L 2031 3388  L 2031 3816  L 4609 3816  L 4609 5153  L 5084 5153  L 5084 3816  z M 3431 1172  Q 3034 1994 2547 2566  L 2931 2822  Q 3428 2231 3853 1472  L 3431 1172  z " transform="scale(0.015625)" />
</defs>
<use href="#IPAGothic-65e5" />
<use href="#IPAGothic-4ed8" transform="translate(100 0)" />
</g>
</g>
</g>
<g id="matplotlib.axis_2">
<g id="ytick_1">
<g id="line2d_57">
<path d="M 47.16 353.16 L 709.56 353.16" clip-path="url(#p4cbaa17810)" style="fill: none; stroke: #b0b0b0; stroke-width: 0.8; stroke-linecap: square" />
</g>
<g id="line2d_58">
<defs>
<path id="mfbbe7d1305" d="M 0 0  L -3.5 0  " style="stroke: #000000; stroke-width: 0.8" />
</defs>
<g>
<use href="#mfbbe7d1305" x="47.16" y="353.16" style="stroke: #000000; stroke-width: 0.8" />
</g>
</g>
<g id="text_30" transform="translate(-0.648 0.72)">
<g transform="translate(34.512 356.560373) scale(0.1 -0.1)">
<use href="#IPAGothic-30" />
</g>
</g>
</g>
<g id="ytick_2">
<g id="line2d_59">
<path d="M 47.16 301.32 L 709.56 301.32" clip-path="url(#p4cbaa17810)" style="fill: none; stroke: #b0b0b0; stroke-width: 0.8; stroke-linecap: square" />
</g>
<g id="line2d_60">
<g>
<use href="#mfbbe7d1305" x="47.16" y="301.32" style="stroke: #000000; stroke-width: 0.8" />
</g>
</g>
<g id="text_31" transform="translate(-0.648 0.72)">
<g transform="translate(29.512 304.719698) scale(0.1 -0.1)">
<use href="#IPAGothic-35" />
<use href="#IPAGothic-30" transform="translate(50 0)" />
</g>
</g>
</g>
<g id="ytick_3">
<g id="line2d_61">
<path d="M 47.16 249.48 L 709.56 249.48" clip-path="url(#p4cbaa17810)" style="fill: none; stroke: #b0b0b0; stroke-width: 0.8; stroke-linecap: square" />
</g>
<g id="line2d_62">
<g>
<use href="#mfbbe7d1305" x="47.16" y="249.48" style="stroke: #000000; stroke-width: 0.8" />
</g>
</g>
<g id="text_32" transform="translate(-0.648 0.72)">
<g transform="translate(24.512 252.879023) scale(0.1 -0.1)">
<use href="#IPAGothic-31" />
<use href="#IPAGothic-30" transform="translate(50 0)" />
<use href="#IPAGothic-30" transform="translate(100 0)" />
</g>
</g>
</g>
<g id="ytick_4">
<g id="line2d_63">
<path d="M 47.16 197.64 L 709.56 197.64" clip-path="url(#p4cbaa17810)" style="fill: none; stroke: #b0b0b0; stroke-width: 0.8; stroke-linecap: square" />
</g>
<g id="line2d_64">
<g>
<use href="#mfbbe7d1305" x="47.16" y="197.64" style="stroke: #000000; stroke-width: 0.8" />
</g>
</g>
<g id="text_33" transform="translate(-0.648 0.72)">
<g transform="translate(24.512 201.038348) scale(0.1 -0.1)">
<use href="#IPAGothic-31" />
<use href="#IPAGothic-35" transform="translate(50 0)" />
<use href="#IPAGothic-30" transform="translate(100 0)" />
</g>
</g>
</g>
<g id="ytick_5">
<g id="line2d_65">
<path d="M 47.16 145.8 L 709.56 145.8" clip-path="url(#p4cbaa17810)" style="fill: none; stroke: #b0b0b0; stroke-width: 0.8; stroke-linecap: square" />
</g>
<g id="line2d_66">
<g>
<use href="#mfbbe7d1305" x="47.16" y="145.8" style="stroke: #000000; stroke-width: 0.8" />
</g>
</g>
<g id="text_34" transform="translate(-0.648 0.72)">
<g transform="translate(24.512 149.197673) scale(0.1 -0.1)">
<use href="#IPAGothic-32" />
<use href="#IPAGothic-30" transform="translate(50 0)" />
<use href="#IPAGothic-30" transform="translate(100 0)" />
</g>
</g>
</g>
<g id="ytick_6">
<g id="line2d_67">
<path d="M 47.16 93.96 L 709.56 93.96" clip-path="url(#p4cbaa17810)" style="fill: none; stroke: #b0b0b0; stroke-width: 0.8; stroke-linecap: square" />
</g>
<g id="line2d_68">
<g>
<use href="#mfbbe7d1305" x="47.16" y="93.96" style="stroke: #000000; stroke-width: 0.8" />
</g>
</g>
<g id="text_35" transform="translate(-0.648 0.72)">
<g transform="translate(24.512 97.356999) scale(0.1 -0.1)">
<use href="#IPAGothic-32" />
<use href="#IPAGothic-35" transform="translate(50 0)" />
<use href="#IPAGothic-30" transform="translate(100 0)" />
</g>
</g>
</g>
<g id="ytick_7">
<g id="line2d_69">
<path d="M 47.16 42.12 L 709.56 42.12" clip-path="url(#p4cbaa17810)" style="fill: none; stroke: #b0b0b0; stroke-width: 0.8; stroke-linecap: square" />
</g>
<g id="line2d_70">
<g>
<use href="#mfbbe7d1305" x="47.16" y="42.12" style="stroke: #000000; stroke-width: 0.8" />
</g>
</g>
<g id="text_36" transform="translate(-0.648 0.72)">
<g transform="translate(24.512 45.516324) scale(0.1 -0.1)">
<use href="#IPAGothic-33" />
<use href="#IPAGothic-30" transform="translate(50 0)" />
<use href="#IPAGothic-30" transform="translate(100 0)" />
</g>
</g>
</g>
<g id="text_37" transform="translate(-1.368 0.864)">
<g transform="translate(19.583875 210.118) rotate(-90) scale(0.1 -0.1)">
<defs>
<path id="IPAGothic-5024" d="M 4172 3675  L 5453 3675  L 5453 684  L 3019 684  L 3019 3675  L 3747 3675  Q 3788 3884 3825 4153  L 2144 4153  L 2144 4544  L 3881 4544  Q 3922 4841 3966 5325  L 4434 5272  L 4391 4953  Q 4331 4578 4331 4544  L 5863 4544  L 5863 4153  L 4269 4153  Q 4200 3781 4172 3675  z M 5038 3316  L 3434 3316  L 3434 2803  L 5038 2803  L 5038 3316  z M 3434 2450  L 3434 1941  L 5038 1941  L 5038 2450  L 3434 2450  z M 3434 1588  L 3434 1044  L 5038 1044  L 5038 1588  L 3434 1588  z M 1509 3669  L 1509 -447  L 1069 -447  L 1069 2728  Q 856 2338 531 1875  L 288 2266  Q 1163 3534 1541 5325  L 1975 5225  Q 1791 4378 1509 3669  z M 2488 244  L 6034 244  L 6034 -153  L 2488 -153  L 2488 -447  L 2059 -447  L 2059 3213  L 2488 3213  L 2488 244  z " transform="scale(0.015625)" />
<path id="IPAGothic-20" transform="scale(0.015625)" />
<path id="IPAGothic-28" d="M 2219 -434  Q 997 769 997 2441  Q 997 4097 2219 5300  L 2719 5300  Q 1478 4078 1478 2425  Q 1478 788 2719 -434  L 2219 -434  z " transform="scale(0.015625)" />
<path id="IPAGothic-5186" d="M 5594 4806  L 5594 319  Q 5594 34 5491 -97  Q 5366 -269 4959 -269  Q 4469 -269 3897 -225  L 3809 275  Q 4384 206 4844 206  Q 5106 206 5106 434  L 5106 2119  L 1281 2119  L 1281 -359  L 794 -359  L 794 4806  L 5594 4806  z M 1281 4366  L 1281 2547  L 2944 2547  L 2944 4366  L 1281 4366  z M 5106 2547  L 5106 4366  L 3413 4366  L 3413 2547  L 5106 2547  z " transform="scale(0.015625)" />
<path id="IPAGothic-29" d="M 481 -434  Q 1722 788 1722 2434  Q 1722 4069 481 5300  L 981 5300  Q 2203 4097 2203 2434  Q 2203 769 981 -434  L 481 -434  z " transform="scale(0.015625)" />
</defs>
<use href="#IPAGothic-5024" />
<use href="#IPAGothic-20" transform="translate(100 0)" />
<use href="#IPAGothic-28" transform="translate(150 0)" />
<use href="#IPAGothic-5186" transform="translate(200 0)" />
<use href="#IPAGothic-29" transform="translate(300 0)" />
</g>
</g>
</g>
<g id="line2d_71">
<path d="M 76.634182 321.70128  L 98.946909 321.70128  L 121.259636 321.70128  L 143.572364 321.70128  L 165.885091 321.70128  L 188.197818 321.70128  L 210.510545 321.70128  L 232.823273 321.70128  L 255.136 321.70128  L 277.448727 321.70128  L 299.761455 321.70128  L 322.074182 321.70128  L 344.386909 321.70128  L 366.699636 321.70128  L 389.012364 321.70128  L 411.325091 321.70128  L 433.637818 317.109678  L 455.950545 312.518075  L 478.263273 307.926472  L 500.576 303.33487  L 522.888727 298.743267  L 545.201455 294.151664  L 567.514182 289.560062  L 589.826909 297.595366  L 612.139636 305.630671  L 634.452364 313.665976  L 656.765091 321.70128  L 679.077818 277.1183  " clip-path="url(#p4cbaa17810)" style="fill: none; stroke: #37cc6a; stroke-width: 1.5; stroke-linecap: square" />
<defs>
<path id="mdcc4bdd39f" d="M 0 3  C 0.795609 3 1.55874 2.683901 2.12132 2.12132  C 2.683901 1.55874 3 0.795609 3 0  C 3 -0.795609 2.683901 -1.55874 2.12132 -2.12132  C 1.55874 -2.683901 0.795609 -3 0 -3  C -0.795609 -3 -1.55874 -2.683901 -2.12132 -2.12132  C -2.683901 -1.55874 -3 -0.795609 -3 0  C -3 0.795609 -2.683901 1.55874 -2.12132 2.12132  C -1.55874 2.683901 -0.795609 3 0 3  z " style="stroke: #37cc6a" />
</defs>
<g clip-path="url(#p4cbaa17810)">
<use href="#mdcc4bdd39f" x="76.68" y="322.2" style="fill: #37cc6a; stroke: #37cc6a" />
<use href="#mdcc4bdd39f" x="99" y="322.2" style="fill: #37cc6a; stroke: #37cc6a" />
<use href="#mdcc4bdd39f" x="121.32" y="322.2" style="fill: #37cc6a; stroke: #37cc6a" />
<use href="#mdcc4bdd39f" x="143.64" y="322.2" style="fill: #37cc6a; stroke: #37cc6a" />
<use href="#mdcc4bdd39f" x="165.96" y="322.2" style="fill: #37cc6a; stroke: #37cc6a" />
<use href="#mdcc4bdd39f" x="188.28" y="322.2" style="fill: #37cc6a; stroke: #37cc6a" />
<use href="#mdcc4bdd39f" x="210.6" y="322.2" style="fill: #37cc6a; stroke: #37cc6a" />
<use href="#mdcc4bdd39f" x="232.92" y="322.2" style="fill: #37cc6a; stroke: #37cc6a" />
<use href="#mdcc4bdd39f" x="255.24" y="322.2" style="fill: #37cc6a; stroke: #37cc6a" />
<use href="#mdcc4bdd39f" x="277.56" y="322.2" style="fill: #37cc6a; stroke: #37cc6a" />
<use href="#mdcc4bdd39f" x="299.88" y="322.2" style="fill: #37cc6a; stroke: #37cc6a" />
<use href="#mdcc4bdd39f" x="322.2" y="322.2" style="fill: #37cc6a; stroke: #37cc6a" />
<use href="#mdcc4bdd39f" x="344.52" y="322.2" style="fill: #37cc6a; stroke: #37cc6a" />
<use href="#mdcc4bdd39f" x="366.84" y="322.2" style="fill: #37cc6a; stroke: #37cc6a" />
<use href="#mdcc4bdd39f" x="389.16" y="322.2" style="fill: #37cc6a; stroke: #37cc6a" />
<use href="#mdcc4bdd39f" x="411.48" y="322.2" style="fill: #37cc6a; stroke: #37cc6a" />
<use href="#mdcc4bdd39f" x="433.8" y="317.16" style="fill: #37cc6a; stroke: #37cc6a" />
<use href="#mdcc4bdd39f" x="456.12" y="312.84" style="fill: #37cc6a; stroke: #37cc6a" />
<use href="#mdcc4bdd39f" x="478.44" y="308.52" style="fill: #37cc6a; stroke: #37cc6a" />
<use href="#mdcc4bdd39f" x="500.76" y="303.48" style="fill: #37cc6a; stroke: #37cc6a" />
<use href="#mdcc4bdd39f" x="523.08" y="299.16" style="fill: #37cc6a; stroke: #37cc6a" />
<use href="#mdcc4bdd39f" x="545.4" y="294.84" style="fill: #37cc6a; stroke: #37cc6a" />
<use href="#mdcc4bdd39f" x="567.72" y="289.8" style="fill: #37cc6a; stroke: #37cc6a" />
<use href="#mdcc4bdd39f" x="590.04" y="297.72" style="fill: #37cc6a; stroke: #37cc6a" />
<use href="#mdcc4bdd39f" x="612.36" y="305.64" style="fill: #37cc6a; stroke: #37cc6a" />
<use href="#mdcc4bdd39f" x="634.68" y="314.28" style="fill: #37cc6a; stroke: #37cc6a" />
<use href="#mdcc4bdd39f" x="657" y="322.2" style="fill: #37cc6a; stroke: #37cc6a" />
<use href="#mdcc4bdd39f" x="679.32" y="277.56" style="fill: #37cc6a; stroke: #37cc6a" />
</g>
</g>
<g id="line2d_72">
<path d="M 76.6342 321.84 L 98.9469 321.84 L 121.2596 321.84 L 143.5724 321.84 L 165.8851 321.84 L 188.1978 321.84 L 210.5105 321.84 L 232.8233 321.84 L 255.136 321.84 L 277.4487 321.84 L 299.7615 321.84 L 322.0742 321.84 L 344.3869 321.84 L 366.6996 321.84 L 389.0124 321.84 L 411.3251 321.84 L 433.6378 321.84 L 455.9505 321.84 L 478.2633 321.84 L 500.576 321.84 L 522.8887 321.84 L 545.2015 321.84 L 567.5142 321.84 L 589.8269 321.84 L 612.1396 321.84 L 634.4524 321.84 L 656.7651 321.84 L 679.0778 321.84" clip-path="url(#p4cbaa17810)" style="fill: none; stroke: #ffa500; stroke-width: 1.5; stroke-linecap: square" />
<defs>
<path id="md56fca9060" d="M 0 3  C 0.795609 3 1.55874 2.683901 2.12132 2.12132  C 2.683901 1.55874 3 0.795609 3 0  C 3 -0.795609 2.683901 -1.55874 2.12132 -2.12132  C 1.55874 -2.683901 0.795609 -3 0 -3  C -0.795609 -3 -1.55874 -2.683901 -2.12132 -2.12132  C -2.683901 -1.55874 -3 -0.795609 -3 0  C -3 0.795609 -2.683901 1.55874 -2.12132 2.12132  C -1.55874 2.683901 -0.795609 3 0 3  z " style="stroke: #ffa500" />
</defs>
<g clip-path="url(#p4cbaa17810)">
<use href="#md56fca9060" x="76.68" y="322.2" style="fill: #ffa500; stroke: #ffa500" />
<use href="#md56fca9060" x="99" y="322.2" style="fill: #ffa500; stroke: #ffa500" />
<use href="#md56fca9060" x="121.32" y="322.2" style="fill: #ffa500; stroke: #ffa500" />
<use href="#md56fca9060" x="143.64" y="322.2" style="fill: #ffa500; stroke: #ffa500" />
<use href="#md56fca9060" x="165.96" y="322.2" style="fill: #ffa500; stroke: #ffa500" />
<use href="#md56fca9060" x="188.28" y="322.2" style="fill: #ffa500; stroke: #ffa500" />
<use href="#md56fca9060" x="210.6" y="322.2" style="fill: #ffa500; stroke: #ffa500" />
<use href="#md56fca9060" x="232.92" y="322.2" style="fill: #ffa500; stroke: #ffa500" />
<use href="#md56fca9060" x="255.24" y="322.2" style="fill: #ffa500; stroke: #ffa500" />
<use href="#md56fca9060" x="277.56" y="322.2" style="fill: #ffa500; stroke: #ffa500" />
<use href="#md56fca9060" x="299.88" y="322.2" style="fill: #ffa500; stroke: #ffa500" />
<use href="#md56fca9060" x="322.2" y="322.2" style="fill: #ffa500; stroke: #ffa500" />
<use href="#md56fca9060" x="344.52" y="322.2" style="fill: #ffa500; stroke: #ffa500" />
<use href="#md56fca9060" x="366.84" y="322.2" style="fill: #ffa500; stroke: #ffa500" />
<use href="#md56fca9060" x="389.16" y="322.2" style="fill: #ffa500; stroke: #ffa500" />
<use href="#md56fca9060" x="411.48" y="322.2" style="fill: #ffa500; stroke: #ffa500" />
<use href="#md56fca9060" x="433.8" y="322.2" style="fill: #ffa500; stroke: #ffa500" />
<use href="#md56fca9060" x="456.12" y="322.2" style="fill: #ffa500; stroke: #ffa500" />
<use href="#md56fca9060" x="478.44" y="322.2" style="fill: #ffa500; stroke: #ffa500" />
<use href="#md56fca9060" x="500.76" y="322.2" style="fill: #ffa500; stroke: #ffa500" />
<use href="#md56fca9060" x="523.08" y="322.2" style="fill: #ffa500; stroke: #ffa500" />
<use href="#md56fca9060" x="545.4" y="322.2" style="fill: #ffa500; stroke: #ffa500" />
<use href="#md56fca9060" x="567.72" y="322.2" style="fill: #ffa500; stroke: #ffa500" />
<use href="#md56fca9060" x="590.04" y="322.2" style="fill: #ffa500; stroke: #ffa500" />
<use href="#md56fca9060" x="612.36" y="322.2" style="fill: #ffa500; stroke: #ffa500" />
<use href="#md56fca9060" x="634.68" y="322.2" style="fill: #ffa500; stroke: #ffa500" />
<use href="#md56fca9060" x="657" y="322.2" style="fill: #ffa500; stroke: #ffa500" />
<use href="#md56fca9060" x="679.32" y="322.2" style="fill: #ffa500; stroke: #ffa500" />
</g>
</g>
<g id="line2d_73">
<path d="M 76.634182 321.70128  L 98.946909 321.70128  L 121.259636 321.70128  L 143.572364 321.70128  L 165.885091 321.70128  L 188.197818 321.70128  L 210.510545 321.70128  L 232.823273 321.70128  L 255.136 321.70128  L 277.448727 321.70128  L 299.761455 321.70128  L 322.074182 321.70128  L 344.386909 321.70128  L 366.699636 321.70128  L 389.012364 321.70128  L 411.325091 321.70128  L 433.637818 281.709903  L 455.950545 241.718525  L 478.263273 201.727147  L 500.576 161.735769  L 522.888727 121.744392  L 545.201455 81.753014  L 567.514182 41.761636  L 589.826909 111.746547  L 612.139636 181.731458  L 634.452364 251.716369  L 656.765091 321.70128  L 679.077818 186.915526  " clip-path="url(#p4cbaa17810)" style="fill: none; stroke: #ff4b4b; stroke-width: 1.5; stroke-linecap: square" />
<defs>
<path id="meb553dcb1c" d="M 0 3  C 0.795609 3 1.55874 2.683901 2.12132 2.12132  C 2.683901 1.55874 3 0.795609 3 0  C 3 -0.795609 2.683901 -1.55874 2.12132 -2.12132  C 1.55874 -2.683901 0.795609 -3 0 -3  C -0.795609 -3 -1.55874 -2.683901 -2.12132 -2.12132  C -2.683901 -1.55874 -3 -0.795609 -3 0  C -3 0.795609 -2.683901 1.55874 -2.12132 2.12132  C -1.55874 2.683901 -0.795609 3 0 3  z " style="stroke: #ff4b4b" />
</defs>
<g clip-path="url(#p4cbaa17810)">
<use href="#meb553dcb1c" x="76.68" y="322.2" style="fill: #ff4b4b; stroke: #ff4b4b" />
<use href="#meb553dcb1c" x="99" y="322.2" style="fill: #ff4b4b; stroke: #ff4b4b" />
<use href="#meb553dcb1c" x="121.32" y="322.2" style="fill: #ff4b4b; stroke: #ff4b4b" />
<use href="#meb553dcb1c" x="143.64" y="322.2" style="fill: #ff4b4b; stroke: #ff4b4b" />
<use href="#meb553dcb1c" x="165.96" y="322.2" style="fill: #ff4b4b; stroke: #ff4b4b" />
<use href="#meb553dcb1c" x="188.28" y="322.2" style="fill: #ff4b4b; stroke: #ff4b4b" />
<use href="#meb553dcb1c" x="210.6" y="322.2" style="fill: #ff4b4b; stroke: #ff4b4b" />
<use href="#meb553dcb1c" x="232.92" y="322.2" style="fill: #ff4b4b; stroke: #ff4b4b" />
<use href="#meb553dcb1c" x="255.24" y="322.2" style="fill: #ff4b4b; stroke: #ff4b4b" />
<use href="#meb553dcb1c" x="277.56" y="322.2" style="fill: #ff4b4b; stroke: #ff4b4b" />
<use href="#meb553dcb1c" x="299.88" y="322.2" style="fill: #ff4b4b; stroke: #ff4b4b" />
<use href="#meb553dcb1c" x="322.2" y="322.2" style="fill: #ff4b4b; stroke: #ff4b4b" />
<use href="#meb553dcb1c" x="344.52" y="322.2" style="fill: #ff4b4b; stroke: #ff4b4b" />
<use href="#meb553dcb1c" x="366.84" y="322.2" style="fill: #ff4b4b; stroke: #ff4b4b" />
<use href="#meb553dcb1c" x="389.16" y="322.2" style="fill: #ff4b4b; stroke: #ff4b4b" />
<use href="#meb553dcb1c" x="411.48" y="322.2" style="fill: #ff4b4b; stroke: #ff4b4b" />
<use href="#meb553dcb1c" x="433.8" y="281.88" style="fill: #ff4b4b; stroke: #ff4b4b" />
<use href="#meb553dcb1c" x="456.12" y="242.28" style="fill: #ff4b4b; stroke: #ff4b4b" />
<use href="#meb553dcb1c" x="478.44" y="201.96" style="fill: #ff4b4b; stroke: #ff4b4b" />
<use href="#meb553dcb1c" x="500.76" y="162.36" style="fill: #ff4b4b; stroke: #ff4b4b" />
<use href="#meb553dcb1c" x="523.08" y="122.04" style="fill: #ff4b4b; stroke: #ff4b4b" />
<use href="#meb553dcb1c" x="545.4" y="82.44" style="fill: #ff4b4b; stroke: #ff4b4b" />
<use href="#meb553dcb1c" x="567.72" y="42.12" style="fill: #ff4b4b; stroke: #ff4b4b" />
<use href="#meb553dcb1c" x="590.04" y="111.96" style="fill: #ff4b4b; stroke: #ff4b4b" />
<use href="#meb553dcb1c" x="612.36" y="181.8" style="fill: #ff4b4b; stroke: #ff4b4b" />
<use href="#meb553dcb1c" x="634.68" y="252.36" style="fill: #ff4b4b; stroke: #ff4b4b" />
<use href="#meb553dcb1c" x="657" y="322.2" style="fill: #ff4b4b; stroke: #ff4b4b" />
<use href="#meb553dcb1c" x="679.32" y="187.56" style="fill: #ff4b4b; stroke: #ff4b4b" />
</g>
</g>
<g id="line2d_74">
<path d="M 76.634182 321.70128  L 98.946909 321.70128  L 121.259636 321.70128  L 143.572364 321.70128  L 165.885091 321.70128  L 188.197818 321.70128  L 210.510545 321.70128  L 232.823273 321.70128  L 255.136 321.70128  L 277.448727 321.70128  L 299.761455 321.70128  L 322.074182 321.70128  L 344.386909 321.70128  L 366.699636 321.70128  L 389.012364 321.70128  L 411.325091 321.70128  L 433.637818 324.811721  L 455.950545 327.922161  L 478.263273 331.032602  L 500.576 334.143042  L 522.888727 337.253483  L 545.201455 340.363923  L 567.514182 343.474364  L 589.826909 338.031093  L 612.139636 332.587822  L 634.452364 327.144551  L 656.765091 321.70128  L 679.077818 321.70128  " clip-path="url(#p4cbaa17810)" style="fill: none; stroke: #4b9bff; stroke-width: 1.5; stroke-linecap: square" />
<defs>
<path id="m7aeb537de7" d="M 0 3  C 0.795609 3 1.55874 2.683901 2.12132 2.12132  C 2.683901 1.55874 3 0.795609 3 0  C 3 -0.795609 2.683901 -1.55874 2.12132 -2.12132  C 1.55874 -2.683901 0.795609 -3 0 -3  C -0.795609 -3 -1.55874 -2.683901 -2.12132 -2.12132  C -2.683901 -1.55874 -3 -0.795609 -3 0  C -3 0.795609 -2.683901 1.55874 -2.12132 2.12132  C -1.55874 2.683901 -0.795609 3 0 3  z " style="stroke: #4b9bff" />
</defs>
<g clip-path="url(#p4cbaa17810)">
<use href="#m7aeb537de7" x="76.68" y="322.2" style="fill: #4b9bff; stroke: #4b9bff" />
<use href="#m7aeb537de7" x="99" y="322.2" style="fill: #4b9bff; stroke: #4b9bff" />
<use href="#m7aeb537de7" x="121.32" y="322.2" style="fill: #4b9bff; stroke: #4b9bff" />
<use href="#m7aeb537de7" x="143.64" y="322.2" style="fill: #4b9bff; stroke: #4b9bff" />
<use href="#m7aeb537de7" x="165.96" y="322.2" style="fill: #4b9bff; stroke: #4b9bff" />
<use href="#m7aeb537de7" x="188.28" y="322.2" style="fill: #4b9bff; stroke: #4b9bff" />
<use href="#m7aeb537de7" x="210.6" y="322.2" style="fill: #4b9bff; stroke: #4b9bff" />
<use href="#m7aeb537de7" x="232.92" y="322.2" style="fill: #4b9bff; stroke: #4b9bff" />
<use href="#m7aeb537de7" x="255.24" y="322.2" style="fill: #4b9bff; stroke: #4b9bff" />
<use href="#m7aeb537de7" x="277.56" y="322.2" style="fill: #4b9bff; stroke: #4b9bff" />
<use href="#m7aeb537de7" x="299.88" y="322.2" style="fill: #4b9bff; stroke: #4b9bff" />
<use href="#m7aeb537de7" x="322.2" y="322.2" style="fill: #4b9bff; stroke: #4b9bff" />
<use href="#m7aeb537de7" x="344.52" y="322.2" style="fill: #4b9bff; stroke: #4b9bff" />
<use href="#m7aeb537de7" x="366.84" y="322.2" style="fill: #4b9bff; stroke: #4b9bff" />
<use href="#m7aeb537de7" x="389.16" y="322.2" style="fill: #4b9bff; stroke: #4b9bff" />
<use href="#m7aeb537de7" x="411.48" y="322.2" style="fill: #4b9bff; stroke: #4b9bff" />
<use href="#m7aeb537de7" x="433.8" y="325.08" style="fill: #4b9bff; stroke: #4b9bff" />
<use href="#m7aeb537de7" x="456.12" y="327.96" style="fill: #4b9bff; stroke: #4b9bff" />
<use href="#m7aeb537de7" x="478.44" y="331.56" style="fill: #4b9bff; stroke: #4b9bff" />
<use href="#m7aeb537de7" x="500.76" y="334.44" style="fill: #4b9bff; stroke: #4b9bff" />
<use href="#m7aeb537de7" x="523.08" y="337.32" style="fill: #4b9bff; stroke: #4b9bff" />
<use href="#m7aeb537de7" x="545.4" y="340.92" style="fill: #4b9bff; stroke: #4b9bff" />
<use href="#m7aeb537de7" x="567.72" y="343.8" style="fill: #4b9bff; stroke: #4b9bff" />
<use href="#m7aeb537de7" x="590.04" y="338.04" style="fill: #4b9bff; stroke: #4b9bff" />
<use href="#m7aeb537de7" x="612.36" y="333" style="fill: #4b9bff; stroke: #4b9bff" />
<use href="#m7aeb537de7" x="634.68" y="327.24" style="fill: #4b9bff; stroke: #4b9bff" />
<use href="#m7aeb537de7" x="657" y="322.2" style="fill: #4b9bff; stroke: #4b9bff" />
<use href="#m7aeb537de7" x="679.32" y="322.2" style="fill: #4b9bff; stroke: #4b9bff" />
</g>
</g>
<g id="patch_3">
<path d="M 47.16 358.92 L 47.16 27" style="fill: none; stroke: #000000; stroke-width: 0.8; stroke-linejoin: miter; stroke-linecap: square" />
</g>
<g id="patch_4">
<path d="M 709.56 358.92 L 709.56 27" style="fill: none; stroke: #000000; stroke-width: 0.8; stroke-linejoin: miter; stroke-linecap: square" />
</g>
<g id="patch_5">
<path d="M 47.16 358.92 L 709.56 358.92" style="fill: none; stroke: #000000; stroke-width: 0.8; stroke-linejoin: miter; stroke-linecap: square" />
</g>
<g id="patch_6">
<path d="M 47.16 27 L 709.56 27" style="fill: none; stroke: #000000; stroke-width: 0.8; stroke-linejoin: miter; stroke-linecap: square" />
</g>
<g id="text_38" transform="translate(0 1.08)">
<g transform="translate(266.856 20.676) scale(0.12 -0.12)">
<defs>
<path id="IPAGothic-30b3" d="M 1050 4178  L 5081 4178  L 5081 122  L 4569 122  L 4569 563  L 978 563  L 978 1056  L 4569 1056  L 4569 3691  L 1050 3691  L 1050 4178  z " transform="scale(0.015625)" />
<path id="IPAGothic-30b8" d="M 2759 3525  Q 2150 4050 1544 4353  L 1844 4775  Q 2434 4484 3100 3975  L 2759 3525  z M 1094 494  Q 3875 1088 5269 3519  L 5619 3122  Q 4228 694 1416 -6  L 1094 494  z M 4947 3794  Q 4709 4294 4341 4691  L 4691 4922  Q 5038 4584 5325 4056  L 4947 3794  z M 2003 2272  Q 1397 2791 763 3103  L 1063 3531  Q 1738 3206 2338 2719  L 2003 2272  z M 5606 4213  Q 5341 4716 4988 5088  L 5344 5306  Q 5678 4981 5991 4459  L 5606 4213  z " transform="scale(0.015625)" />
<path id="IPAGothic-30e7" d="M 1628 3469  L 4653 3469  L 4653 0  L 4172 0  L 4172 294  L 1556 294  L 1556 753  L 4172 753  L 4172 1734  L 1769 1734  L 1769 2169  L 4172 2169  L 4172 3028  L 1628 3028  L 1628 3469  z " transform="scale(0.015625)" />
<path id="IPAGothic-30d5" d="M 4966 4294  L 5263 4019  Q 4819 894 1966 -97  L 1600 353  Q 4234 1156 4684 3822  L 1044 3756  L 1044 4244  L 4966 4294  z " transform="scale(0.015625)" />
<path id="IPAGothic-30fc" d="M 588 2688  L 5809 2688  L 5809 2175  L 588 2175  L 588 2688  z " transform="scale(0.015625)" />
<path id="IPAGothic-2f" d="M 2750 5259  L 3006 5147  L 441 -403  L 184 -288  L 2750 5259  z " transform="scale(0.015625)" />
<path id="IPAGothic-53" d="M 831 1613  Q 869 666 1650 666  Q 1931 666 2119 806  Q 2381 1009 2381 1375  Q 2381 1769 2053 2069  Q 1828 2269 1281 2584  Q 416 3094 416 3800  Q 416 4247 697 4556  Q 1038 4934 1606 4934  Q 2666 4934 2809 3659  L 2284 3659  Q 2263 3953 2163 4128  Q 1963 4481 1606 4481  Q 1238 4481 1056 4231  Q 928 4053 928 3841  Q 928 3334 1753 2853  Q 2263 2556 2534 2284  Q 2900 1928 2900 1381  Q 2900 866 2572 550  Q 2222 197 1666 197  Q 969 197 581 709  Q 313 1066 294 1613  L 831 1613  z " transform="translate(25 0) scale(1.1 1) translate(-25 0) scale(0.015625)" />
<path id="IPAGothic-52" d="M 447 4806  L 1556 4806  Q 2097 4806 2438 4563  Q 2872 4244 2872 3641  Q 2872 2759 2034 2500  L 2994 325  L 2406 325  L 1534 2416  L 947 2416  L 947 325  L 447 325  L 447 4806  z M 947 4331  L 947 2875  L 1484 2875  Q 1766 2875 1975 2991  Q 2359 3191 2359 3628  Q 2359 4331 1478 4331  L 947 4331  z " transform="translate(25 0) scale(1.1 1) translate(-25 0) scale(0.015625)" />
<path id="IPAGothic-43" d="M 2891 1819  Q 2750 200 1625 200  Q 966 200 606 884  Q 294 1484 294 2559  Q 294 3656 641 4300  Q 984 4934 1625 4934  Q 2653 4934 2853 3525  L 2328 3525  Q 2194 4453 1625 4453  Q 844 4453 844 2559  Q 844 681 1631 681  Q 2297 681 2353 1819  L 2891 1819  z " transform="translate(25 0) scale(1.1 1) translate(-25 0) scale(0.015625)" />
<path id="IPAGothic-4fa1" d="M 3144 3397  L 3144 4416  L 1831 4416  L 1831 4825  L 6081 4825  L 6081 4416  L 4713 4416  L 4713 3397  L 5850 3397  L 5850 -384  L 5416 -384  L 5416 0  L 2463 0  L 2463 -384  L 2034 -384  L 2034 3397  L 3144 3397  z M 3572 3397  L 4281 3397  L 4281 4416  L 3572 4416  L 3572 3397  z M 3169 3013  L 2463 3013  L 2463 391  L 3169 391  L 3169 3013  z M 3572 3013  L 3572 391  L 4281 391  L 4281 3013  L 3572 3013  z M 4684 3013  L 4684 391  L 5416 391  L 5416 3013  L 4684 3013  z M 1394 3816  L 1394 -447  L 966 -447  L 966 2797  Q 756 2369 478 1972  L 244 2369  Q 950 3472 1375 5313  L 1809 5203  Q 1588 4344 1394 3816  z " transform="scale(0.015625)" />
<path id="IPAGothic-683c" d="M 1281 2650  Q 978 1569 500 806  L 231 1269  Q 866 2141 1231 3584  L 366 3584  L 366 3988  L 1281 3988  L 1281 5306  L 1716 5306  L 1716 3988  L 2534 3988  L 2534 3584  L 1716 3584  L 1716 3072  Q 2163 2719 2572 2331  L 2328 1953  Q 2059 2291 1716 2625  L 1716 -447  L 1281 -447  L 1281 2650  z M 2938 1747  Q 2716 1613 2516 1509  L 2247 1841  Q 3244 2341 3963 3078  Q 3669 3369 3353 3841  Q 3028 3344 2638 2969  L 2356 3281  Q 3213 4131 3538 5300  L 3956 5184  Q 3834 4813 3834 4806  L 5250 4806  L 5478 4606  Q 5016 3650 4531 3091  Q 5238 2509 6131 2144  L 5838 1731  Q 5766 1766 5516 1900  L 5459 1931  L 5459 -447  L 5019 -447  L 5019 -128  L 3378 -128  L 3378 -447  L 2938 -447  L 2938 1747  z M 3225 1931  L 5459 1931  Q 5416 1959 5325 2009  Q 4738 2344 4263 2781  Q 3906 2400 3225 1931  z M 5019 1547  L 3378 1547  L 3378 263  L 5019 263  L 5019 1547  z M 3672 4422  Q 3625 4331 3556 4184  Q 3825 3781 4225 3372  Q 4588 3809 4903 4422  L 3672 4422  z " transform="scale(0.015625)" />
<path id="IPAGothic-63a8" d="M 3244 4063  L 4244 4063  Q 4484 4581 4653 5228  L 5125 5100  Q 4913 4484 4691 4063  L 5906 4063  L 5906 3666  L 4647 3666  L 4647 2822  L 5747 2822  L 5747 2438  L 4647 2438  L 4647 1594  L 5747 1594  L 5747 1216  L 4647 1216  L 4647 319  L 6047 319  L 6047 -91  L 3244 -91  L 3244 -481  L 2816 -481  L 2816 3188  L 2791 3128  Q 2581 2744 2366 2463  L 2084 2797  Q 2813 3728 3166 5284  L 3616 5144  Q 3428 4494 3244 4063  z M 3244 319  L 4231 319  L 4231 1216  L 3244 1216  L 3244 319  z M 3244 1594  L 4231 1594  L 4231 2438  L 3244 2438  L 3244 1594  z M 3244 2822  L 4231 2822  L 4231 3666  L 3244 3666  L 3244 2822  z M 1184 4084  L 1184 5313  L 1613 5313  L 1613 4084  L 2328 4084  L 2328 3669  L 1613 3669  L 1613 2241  Q 1997 2341 2334 2453  L 2359 2069  Q 1809 1884 1631 1831  L 1613 1825  L 1613 44  Q 1613 -194 1522 -294  Q 1413 -403 1081 -403  Q 738 -403 519 -366  L 441 97  Q 741 38 978 38  Q 1184 38 1184 219  L 1184 1703  L 1144 1697  Q 738 1584 409 1509  L 275 1941  Q 722 2022 1138 2119  Q 1147 2122 1166 2125  Q 1175 2128 1184 2131  L 1184 3669  L 372 3669  L 372 4084  L 1184 4084  z " transform="scale(0.015625)" />
<path id="IPAGothic-79fb" d="M 4691 2419  L 5844 2419  L 6066 2188  Q 5503 1156 4759 513  Q 4078 -75 2975 -469  L 2681 -97  Q 3684 194 4384 728  Q 4094 1056 3731 1356  Q 3381 1053 2919 819  L 2669 1150  Q 3853 1772 4500 2878  L 4909 2772  Q 4772 2528 4691 2419  z M 4409 2034  Q 4216 1803 4000 1588  Q 4375 1341 4703 1009  Q 5219 1488 5497 2034  L 4409 2034  z M 1350 2328  Q 1009 1334 513 659  L 263 1081  Q 966 2022 1266 3128  L 366 3128  L 366 3531  L 1350 3531  L 1350 4400  Q 919 4322 575 4266  L 366 4644  Q 1506 4806 2381 5144  L 2700 4747  Q 2241 4600 1784 4491  L 1784 3531  L 2619 3531  L 2619 3128  L 1784 3128  L 1784 2688  Q 2303 2266 2722 1803  L 2444 1356  Q 2103 1841 1784 2181  L 1784 -447  L 1350 -447  L 1350 2328  z M 4275 4800  L 5491 4800  L 5709 4609  Q 4759 2809 2872 2047  L 2603 2388  Q 3534 2722 4134 3244  Q 3869 3519 3450 3794  Q 3184 3569 2859 3359  L 2591 3666  Q 3578 4259 4056 5288  L 4478 5191  Q 4403 5034 4275 4800  z M 4019 4416  Q 3856 4194 3700 4038  Q 4128 3759 4372 3553  L 4416 3513  Q 4884 3991 5119 4416  L 4019 4416  z " transform="scale(0.015625)" />
<path id="IPAGothic-904e" d="M 1703 741  Q 1975 363 2503 209  Q 2906 94 3931 94  Q 4897 94 6131 178  Q 6025 -59 5978 -300  Q 4931 -341 4384 -341  Q 2819 -341 2234 -128  Q 1763 44 1525 397  Q 1113 -81 653 -447  L 372 19  Q 900 341 1269 672  L 1269 2303  L 378 2303  L 378 2731  L 1703 2731  L 1703 741  z M 5338 2778  L 2594 2778  L 2594 428  L 2178 428  L 2178 3138  L 2594 3138  L 2594 5025  L 5338 5025  L 5338 3138  L 5753 3138  L 5753 875  Q 5753 597 5638 513  Q 5547 441 5313 441  Q 5019 441 4713 478  L 4659 903  Q 4956 850 5184 850  Q 5338 850 5338 1016  L 5338 2778  z M 4934 3138  L 4934 3784  L 4041 3784  L 4041 3138  L 4934 3138  z M 3663 3138  L 3663 4116  L 4934 4116  L 4934 4666  L 3003 4666  L 3003 3138  L 3663 3138  z M 4750 2350  L 4750 1113  L 3469 1113  L 3469 781  L 3091 781  L 3091 2350  L 4750 2350  z M 3469 2019  L 3469 1453  L 4372 1453  L 4372 2019  L 3469 2019  z M 1525 3775  Q 1053 4353 563 4738  L 878 5056  Q 1497 4566 1869 4122  L 1525 3775  z " transform="scale(0.015625)" />
<path id="IPAGothic-53bb" d="M 3009 2169  Q 3003 2150 2988 2131  Q 2634 1163 2144 344  L 2375 363  Q 3003 400 3963 497  L 4697 575  Q 4322 1025 3909 1419  L 4281 1650  Q 5041 956 5834 -34  L 5431 -347  Q 5347 -234 5200 -47  Q 5038 163 4991 222  Q 3384 -22 959 -213  L 800 269  Q 888 272 1153 288  Q 1428 303 1606 313  L 1656 403  Q 2147 1250 2491 2169  L 447 2169  L 447 2584  L 2931 2584  L 2931 3744  L 959 3744  L 959 4159  L 2931 4159  L 2931 5216  L 3419 5216  L 3419 4159  L 5438 4159  L 5438 3744  L 3419 3744  L 3419 2584  L 5950 2584  L 5950 2169  L 3009 2169  z " transform="scale(0.015625)" />
<path id="IPAGothic-9593" d="M 4450 2566  L 4450 353  L 2375 353  L 2375 -25  L 1953 -25  L 1953 2566  L 4450 2566  z M 4028 2200  L 2375 2200  L 2375 1653  L 4028 1653  L 4028 2200  z M 4028 1300  L 2375 1300  L 2375 719  L 4028 719  L 4028 1300  z M 2913 5019  L 2913 3059  L 1056 3059  L 1056 -447  L 609 -447  L 609 5019  L 2913 5019  z M 1056 4659  L 1056 4206  L 2497 4206  L 2497 4659  L 1056 4659  z M 1056 3881  L 1056 3413  L 2497 3413  L 2497 3881  L 1056 3881  z M 5788 5019  L 5788 91  Q 5788 -225 5641 -331  Q 5525 -409 5231 -409  Q 4800 -409 4481 -366  L 4419 97  Q 4853 38 5128 38  Q 5341 38 5341 244  L 5341 3059  L 3438 3059  L 3438 5019  L 5788 5019  z M 3853 4659  L 3853 4206  L 5341 4206  L 5341 4659  L 3853 4659  z M 3853 3881  L 3853 3413  L 5341 3413  L 5341 3881  L 3853 3881  z " transform="scale(0.015625)" />
</defs>
<use href="#IPAGothic-30b3" />
<use href="#IPAGothic-30b8" transform="translate(100 0)" />
<use href="#IPAGothic-30e7" transform="translate(200 0)" />
<use href="#IPAGothic-30d5" transform="translate(300 0)" />
<use href="#IPAGothic-30fc" transform="translate(400 0)" />
<use href="#IPAGothic-2f" transform="translate(500 0)" />
<use href="#IPAGothic-53" transform="translate(550 0)" />
<use href="#IPAGothic-35" transform="translate(600 0)" />
<use href="#IPAGothic-52" transform="translate(650 0)" />
<use href="#IPAGothic-2f" transform="translate(700 0)" />
<use href="#IPAGothic-43" transform="translate(750 0)" />
<use href="#IPAGothic-20" transform="translate(800 0)" />
<use href="#IPAGothic-4fa1" transform="translate(850 0)" />
<use href="#IPAGothic-683c" transform="translate(950 0)" />
<use href="#IPAGothic-63a8" transform="translate(1050 0)" />
<use href="#IPAGothic-79fb" transform="translate(1150 0)" />
<use href="#IPAGothic-28" transform="translate(1250 0)" />
<use href="#IPAGothic-904e" transform="translate(1300 0)" />
<use href="#IPAGothic-53bb" transform="translate(1400 0)" />
<use href="#IPAGothic-33" transform="translate(1500 0)" />
<use href="#IPAGothic-30" transform="translate(1550 0)" />
<use href="#IPAGothic-65e5" transform="translate(1600 0)" />
<use href="#IPAGothic-9593" transform="translate(1700 0)" />
<use href="#IPAGothic-29" transform="translate(1800 0)" />
</g>
</g>
<g id="legend_1">
<g id="patch_7">
<path d="M 640.2 92.4629  L 702.2 92.4629  Q 704.2 92.4629  704.2 90.4629  L 704.2 34.036  Q 704.2 32.036  702.2 32.036  L 640.2 32.036  Q 638.2 32.036  638.2 34.036  L 638.2 90.4629  Q 638.2 92.4629  640.2 92.4629  z " style="fill: #ffffff; opacity: 0.8; stroke: #cccccc; stroke-linejoin: miter" />
</g>
<g id="line2d_75">
<path d="M 642.2 40.32 L 652.2 40.32 L 662.2 40.32" style="fill: none; stroke: #37cc6a; stroke-width: 1.5; stroke-linecap: square" />
<g>
<use href="#mdcc4bdd39f" x="652.68" y="40.68" style="fill: #37cc6a; stroke: #37cc6a" />
</g>
</g>
<g id="text_39" transform="translate(0.216 0.252)">
<g transform="translate(670.2 43.766625) scale(0.1 -0.1)">
<defs>
<path id="IPAGothic-5e73" d="M 3419 4428  L 3419 1941  L 6078 1941  L 6078 1513  L 3419 1513  L 3419 -447  L 2931 -447  L 2931 1513  L 319 1513  L 319 1941  L 2931 1941  L 2931 4428  L 638 4428  L 638 4856  L 5759 4856  L 5759 4428  L 3419 4428  z M 1728 2278  Q 1488 3094 1081 3859  L 1541 4038  Q 1872 3422 2219 2472  L 1728 2278  z M 4134 2425  Q 4506 3138 4813 4128  L 5303 3944  Q 4984 3006 4569 2228  L 4134 2425  z " transform="scale(0.015625)" />
<path id="IPAGothic-5747" d="M 1206 3794  L 1206 5147  L 1659 5147  L 1659 3794  L 2369 3794  L 2369 3372  L 1659 3372  L 1659 1325  Q 2081 1516 2481 1722  L 2566 1313  Q 1556 778 559 397  L 334 838  Q 803 975 1206 1138  L 1206 3372  L 413 3372  L 413 3794  L 1206 3794  z M 3475 4244  L 5844 4244  Q 5834 1131 5619 184  Q 5494 -366 4838 -366  Q 4369 -366 3859 -306  L 3769 184  Q 4241 88 4731 88  Q 5059 88 5147 306  Q 5359 919 5369 3828  L 3316 3828  Q 3013 3119 2466 2472  L 2150 2828  Q 2944 3788 3259 5263  L 3719 5147  Q 3619 4663 3475 4244  z M 2978 2847  L 4681 2847  L 4681 2431  L 2978 2431  L 2978 2847  z M 2559 1044  Q 3747 1338 4838 1797  L 4891 1388  Q 3831 891 2766 588  L 2559 1044  z " transform="scale(0.015625)" />
</defs>
<use href="#IPAGothic-5e73" />
<use href="#IPAGothic-5747" transform="translate(100 0)" />
<use href="#IPAGothic-5024" transform="translate(200 0)" />
</g>
</g>
<g id="line2d_76">
<path d="M 642.2 54.72 L 652.2 54.72 L 662.2 54.72" style="fill: none; stroke: #ffa500; stroke-width: 1.5; stroke-linecap: square" />
<g>
<use href="#md56fca9060" x="652.68" y="55.08" style="fill: #ffa500; stroke: #ffa500" />
</g>
</g>
<g id="text_40" transform="translate(0.216 0.4896)">
<g transform="translate(670.2 57.785375) scale(0.1 -0.1)">
<defs>
<path id="IPAGothic-4e2d" d="M 2925 3950  L 2925 5209  L 3425 5209  L 3425 3950  L 5613 3950  L 5613 1125  L 5125 1125  L 5125 1594  L 3425 1594  L 3425 -447  L 2925 -447  L 2925 1594  L 1263 1594  L 1263 1094  L 775 1094  L 775 3950  L 2925 3950  z M 1263 3534  L 1263 2009  L 2925 2009  L 2925 3534  L 1263 3534  z M 5125 2009  L 5125 3534  L 3425 3534  L 3425 2009  L 5125 2009  z " transform="scale(0.015625)" />
<path id="IPAGothic-592e" d="M 3578 1947  Q 4238 694 5972 134  L 5634 -294  Q 3847 378 3253 1750  Q 2916 216 809 -403  L 506 16  Q 2547 475 2894 1947  L 353 1947  L 353 2363  L 1256 2363  L 1256 4178  L 2938 4178  L 2938 5216  L 3413 5216  L 3413 4178  L 5141 4178  L 5141 2363  L 6044 2363  L 6044 1947  L 3578 1947  z M 2938 3763  L 1703 3763  L 1703 2363  L 2938 2363  L 2938 3763  z M 3413 3763  L 3413 2363  L 4688 2363  L 4688 3763  L 3413 3763  z " transform="scale(0.015625)" />
</defs>
<use href="#IPAGothic-4e2d" />
<use href="#IPAGothic-592e" transform="translate(100 0)" />
<use href="#IPAGothic-5024" transform="translate(200 0)" />
</g>
</g>
<g id="line2d_77">
<path d="M 642.2 69.12 L 652.2 69.12 L 662.2 69.12" style="fill: none; stroke: #ff4b4b; stroke-width: 1.5; stroke-linecap: square" />
<g>
<use href="#meb553dcb1c" x="652.68" y="69.48" style="fill: #ff4b4b; stroke: #ff4b4b" />
</g>
</g>
<g id="text_41" transform="translate(0.216 0.7272)">
<g transform="translate(670.2 71.940062) scale(0.1 -0.1)">
<defs>
<path id="IPAGothic-6700" d="M 5106 5050  L 5106 3275  L 1288 3275  L 1288 5050  L 5106 5050  z M 1741 4697  L 1741 4331  L 4659 4331  L 4659 4697  L 1741 4697  z M 1741 4000  L 1741 3622  L 4659 3622  L 4659 4000  L 1741 4000  z M 2925 2528  L 2925 -447  L 2503 -447  L 2503 231  Q 1875 97 525 -75  L 409 359  Q 491 363 609 372  Q 728 381 756 384  L 994 403  L 994 2528  L 384 2528  L 384 2900  L 6016 2900  L 6016 2528  L 2925 2528  z M 2503 2528  L 1403 2528  L 1403 2088  L 2503 2088  L 2503 2528  z M 2503 1763  L 1403 1763  L 1403 1309  L 2503 1309  L 2503 1763  z M 2503 984  L 1403 984  L 1403 434  L 1763 472  Q 2159 500 2503 550  L 2503 984  z M 4844 588  Q 5350 225 6047 -9  L 5753 -419  Q 5066 -128 4556 288  Q 4000 -241 3281 -534  L 3006 -163  Q 3738 84 4263 563  Q 3722 1141 3463 1803  L 3084 1803  L 3084 2169  L 5428 2169  L 5656 1963  Q 5328 1178 4881 638  L 4844 588  z M 4538 850  Q 4884 1275 5119 1803  L 3872 1803  Q 4113 1275 4538 850  z " transform="scale(0.015625)" />
<path id="IPAGothic-9ad8" d="M 4481 1588  L 4481 366  L 2319 366  L 2319 0  L 1891 0  L 1891 1588  L 4481 1588  z M 4053 1247  L 2319 1247  L 2319 706  L 4053 706  L 4053 1247  z M 3419 4641  L 5916 4641  L 5916 4263  L 481 4263  L 481 4641  L 2938 4641  L 2938 5313  L 3419 5313  L 3419 4641  z M 4884 3878  L 4884 2694  L 1513 2694  L 1513 3878  L 4884 3878  z M 1959 3531  L 1959 3041  L 4438 3041  L 4438 3531  L 1959 3531  z M 5684 2309  L 5684 103  Q 5684 -378 5091 -378  Q 4703 -378 4316 -350  L 4253 109  Q 4706 44 5006 44  Q 5231 44 5231 250  L 5231 1944  L 1166 1944  L 1166 -447  L 713 -447  L 713 2309  L 5684 2309  z " transform="scale(0.015625)" />
</defs>
<use href="#IPAGothic-6700" />
<use href="#IPAGothic-9ad8" transform="translate(100 0)" />
<use href="#IPAGothic-5024" transform="translate(200 0)" />
</g>
</g>
<g id="line2d_78">
<path d="M 642.2 83.52 L 652.2 83.52 L 662.2 83.52" style="fill: none; stroke: #4b9bff; stroke-width: 1.5; stroke-linecap: square" />
<g>
<use href="#m7aeb537de7" x="652.68" y="83.88" style="fill: #4b9bff; stroke: #4b9bff" />
</g>
</g>
<g id="text_42" transform="translate(0.216 0.9648)">
<g transform="translate(670.2 86.09475) scale(0.1 -0.1)">
<defs>
<path id="IPAGothic-5b89" d="M 4728 2381  Q 4484 1484 3969 872  Q 5038 403 5778 31  L 5397 -353  Q 4466 163 3616 538  Q 2703 -194 838 -403  L 550 31  Q 2272 166 3150 738  Q 2625 963 1925 1216  Q 1863 1119 1663 831  L 1259 1050  Q 1684 1650 2088 2381  L 416 2381  L 416 2784  L 2284 2784  Q 2563 3388 2713 3828  L 3169 3706  Q 2972 3178 2791 2784  L 5984 2784  L 5984 2381  L 4728 2381  z M 4244 2381  L 2600 2381  Q 2459 2097 2209 1659  L 2150 1563  Q 2750 1359 3366 1113  L 3525 1050  Q 4019 1572 4244 2381  z M 3419 4428  L 5753 4428  L 5753 3163  L 5278 3163  L 5278 4025  L 1116 4025  L 1116 3163  L 641 3163  L 641 4428  L 2931 4428  L 2931 5313  L 3419 5313  L 3419 4428  z " transform="scale(0.015625)" />
</defs>
<use href="#IPAGothic-6700" />
<use href="#IPAGothic-5b89" transform="translate(100 0)" />
<use href="#IPAGothic-5024" transform="translate(200 0)" />
</g>
</g>
</g>
</g>
</g>
<defs>
<clipPath id="p4cbaa17810">
<rect x="46.512" y="26.676" width="662.688" height="331.884" />
</clipPath>
</defs>
</svg>
</body></html>
